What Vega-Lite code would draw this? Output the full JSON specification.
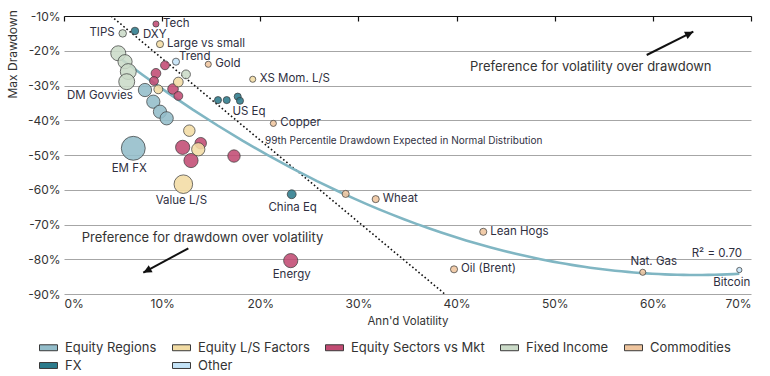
{
  "$schema": "https://vega.github.io/schema/vega-lite/v6.json",
  "width": 687,
  "height": 278,
  "autosize": {"type": "none"},
  "padding": {"left": 64, "top": 16, "right": 19, "bottom": 82},
  "background": "white",
  "config": {
    "view": {"stroke": null},
    "font": "Inter",
    "text": {"font": "Inter", "fill": "#2f2f3f", "fontSize": 11.5, "baseline": "middle"},
    "legend": {
      "orient": "none", "legendX": -25, "legendY": 322, "direction": "horizontal", "columns": 5,
      "symbolType": "M-1,-0.33H1V0.33H-1Z", "symbolSize": 324, "symbolStrokeColor": "#3a3a3a",
      "symbolStrokeWidth": 1, "symbolOpacity": 1, "labelFont": "Inter", "labelFontSize": 13,
      "labelColor": "#333333", "labelOffset": 7, "columnPadding": 13, "rowPadding": 1, "padding": 0
    }
  },
  "resolve": {"axis": {"x": "independent", "y": "independent"}},
  "datasets": {
    "pts": [
      {"name": "TIPS", "group": "Fixed Income", "vol": 5.98, "dd": -15.0, "weight": 18},
      {"name": "Fixed Income A", "group": "Fixed Income", "vol": 5.53, "dd": -20.73, "weight": 72},
      {"name": "Fixed Income B", "group": "Fixed Income", "vol": 6.22, "dd": -23.15, "weight": 64},
      {"name": "Fixed Income C", "group": "Fixed Income", "vol": 6.55, "dd": -26.0, "weight": 81},
      {"name": "DM Govvies", "group": "Fixed Income", "vol": 6.39, "dd": -28.9, "weight": 81},
      {"name": "Fixed Income D", "group": "Fixed Income", "vol": 12.43, "dd": -26.8, "weight": 25},
      {"name": "Tech", "group": "Equity Sectors vs Mkt", "vol": 9.37, "dd": -12.3, "weight": 12},
      {"name": "Sector A", "group": "Equity Sectors vs Mkt", "vol": 10.29, "dd": -24.19, "weight": 25},
      {"name": "Sector B", "group": "Equity Sectors vs Mkt", "vol": 9.37, "dd": -26.5, "weight": 30},
      {"name": "Sector C", "group": "Equity Sectors vs Mkt", "vol": 9.17, "dd": -28.7, "weight": 25},
      {"name": "Sector D", "group": "Equity Sectors vs Mkt", "vol": 11.11, "dd": -31.0, "weight": 36},
      {"name": "Sector E", "group": "Equity Sectors vs Mkt", "vol": 11.65, "dd": -33.0, "weight": 25},
      {"name": "Sector F", "group": "Equity Sectors vs Mkt", "vol": 12.09, "dd": -47.8, "weight": 64},
      {"name": "Sector G", "group": "Equity Sectors vs Mkt", "vol": 13.93, "dd": -46.6, "weight": 42},
      {"name": "Sector H", "group": "Equity Sectors vs Mkt", "vol": 12.94, "dd": -51.6, "weight": 64},
      {"name": "Sector I", "group": "Equity Sectors vs Mkt", "vol": 17.32, "dd": -50.3, "weight": 49},
      {"name": "Energy", "group": "Equity Sectors vs Mkt", "vol": 23.1, "dd": -80.4, "weight": 64},
      {"name": "Large vs small", "group": "Equity L/S Factors", "vol": 9.78, "dd": -18.1, "weight": 16},
      {"name": "XS Mom. L/S", "group": "Equity L/S Factors", "vol": 19.23, "dd": -28.2, "weight": 12},
      {"name": "Factor A", "group": "Equity L/S Factors", "vol": 9.61, "dd": -31.1, "weight": 25},
      {"name": "Factor B", "group": "Equity L/S Factors", "vol": 11.65, "dd": -29.0, "weight": 30},
      {"name": "Factor C", "group": "Equity L/S Factors", "vol": 12.77, "dd": -43.0, "weight": 42},
      {"name": "Factor D", "group": "Equity L/S Factors", "vol": 13.68, "dd": -48.36, "weight": 56},
      {"name": "Value L/S", "group": "Equity L/S Factors", "vol": 12.16, "dd": -58.4, "weight": 110},
      {"name": "Region A", "group": "Equity Regions", "vol": 8.25, "dd": -31.3, "weight": 56},
      {"name": "Region B", "group": "Equity Regions", "vol": 9.1, "dd": -34.66, "weight": 56},
      {"name": "Region C", "group": "Equity Regions", "vol": 9.78, "dd": -37.54, "weight": 56},
      {"name": "Region D", "group": "Equity Regions", "vol": 10.46, "dd": -39.44, "weight": 56},
      {"name": "EM FX", "group": "Equity Regions", "vol": 7.06, "dd": -48.07, "weight": 182},
      {"name": "Gold", "group": "Commodities", "vol": 14.7, "dd": -23.9, "weight": 12},
      {"name": "Copper", "group": "Commodities", "vol": 21.33, "dd": -40.9, "weight": 12},
      {"name": "Commodity A", "group": "Commodities", "vol": 28.7, "dd": -61.2, "weight": 16},
      {"name": "Wheat", "group": "Commodities", "vol": 31.76, "dd": -62.7, "weight": 16},
      {"name": "Lean Hogs", "group": "Commodities", "vol": 42.72, "dd": -72.1, "weight": 16},
      {"name": "Oil (Brent)", "group": "Commodities", "vol": 39.74, "dd": -82.9, "weight": 16},
      {"name": "Nat. Gas", "group": "Commodities", "vol": 58.97, "dd": -83.75, "weight": 12},
      {"name": "DXY", "group": "FX", "vol": 7.23, "dd": -14.3, "weight": 18},
      {"name": "US Eq A", "group": "FX", "vol": 15.69, "dd": -34.2, "weight": 16},
      {"name": "US Eq B", "group": "FX", "vol": 16.58, "dd": -34.2, "weight": 16},
      {"name": "US Eq C", "group": "FX", "vol": 17.7, "dd": -33.2, "weight": 16},
      {"name": "US Eq", "group": "FX", "vol": 17.93, "dd": -34.4, "weight": 16},
      {"name": "China Eq", "group": "FX", "vol": 23.2, "dd": -61.3, "weight": 25},
      {"name": "Trend", "group": "Other", "vol": 11.41, "dd": -23.15, "weight": 16},
      {"name": "Bitcoin", "group": "Other", "vol": 68.81, "dd": -83.1, "weight": 9}
    ],
    "ann": [
      {"kind": "p99", "vol": 4.8, "dd": -10},
      {"kind": "p99", "vol": 38.8, "dd": -90},
      {"kind": "note", "text": "99th Percentile Drawdown Expected in Normal Distribution", "vol": 20.48, "dd": -45.97},
      {"kind": "pref", "text": "Preference for volatility over drawdown", "vol": 41.37, "dd": -24.59},
      {"kind": "pref", "text": "Preference for drawdown over volatility", "vol": 1.8, "dd": -73.97},
      {"kind": "r2", "text": "R² = 0.70", "vol": 69.08, "dd": -78.5},
      {"kind": "arrow1", "vol": 59.37, "dd": -21.22, "vol2": 64.12, "dd2": -14.52},
      {"kind": "arrow2", "vol": 12.67, "dd": -76.85, "vol2": 8.08, "dd2": -83.87}
    ]
  },
  "layer": [
    {
      "data": {"name": "ann"},
      "transform": [{"filter": "datum.kind === 'p99'"}],
      "mark": {"type": "line", "color": "#111111", "strokeWidth": 1.6, "strokeDash": [1.6, 2.4], "clip": true},
      "encoding": {
        "x": {"field": "vol", "type": "quantitative", "scale": {"domain": [0, 70], "nice": false},
          "axis": {"orient": "bottom", "offset": -278, "labels": false, "grid": false, "domain": true,
            "domainColor": "#111111", "domainWidth": 1.2, "ticks": true, "tickColor": "#111111", "tickSize": 5,
            "tickWidth": 1.2, "values": [0, 10, 20, 30, 40, 50, 60, 70], "title": null}},
        "y": {"field": "dd", "type": "quantitative", "scale": {"domain": [-90, -10], "nice": false},
          "axis": {"values": [-10, -20, -30, -40, -50, -60, -70, -80, -90], "labelExpr": "datum.value + '%'",
            "grid": true, "gridColor": "#a6a6a6", "gridWidth": 1, "domain": false, "ticks": false, "labelPadding": 4,
            "labelFontSize": 12, "labelColor": "#333333", "labelFont": "Inter", "title": "Max Drawdown",
            "titleFont": "Inter", "titleFontSize": 12, "titleFontWeight": "normal", "titleColor": "#333333",
            "titleAngle": -90, "titleAlign": "left", "titleBaseline": "middle", "titleX": -52, "titleY": 82}}
      }
    },
    {
      "data": {"name": "pts"},
      "transform": [{"regression": "dd", "on": "vol", "method": "poly", "order": 2}],
      "mark": {"type": "line", "color": "#80b6c3", "strokeWidth": 2.6},
      "encoding": {
        "x": {"field": "vol", "type": "quantitative", "axis": null},
        "y": {"field": "dd", "type": "quantitative", "axis": null}
      }
    },
    {
      "data": {"name": "pts"},
      "mark": {"type": "point", "filled": true, "shape": "circle", "fillOpacity": 0.88, "stroke": "#3a3a3a", "strokeWidth": 0.8, "strokeOpacity": 0.9},
      "encoding": {
        "x": {"field": "vol", "type": "quantitative",
          "axis": {"orient": "bottom", "values": [0, 10, 20, 30, 40, 50, 60, 70], "labelExpr": "datum.value + '%'",
            "grid": false, "domain": false, "ticks": false, "labelPadding": 4, "labelFontSize": 12, "labelColor": "#333333",
            "labelFont": "Inter", "title": "Ann'd Volatility", "titleFont": "Inter", "titleFontSize": 11.5,
            "titleFontWeight": "normal", "titleColor": "#333333", "titlePadding": 6}},
        "y": {"field": "dd", "type": "quantitative", "axis": null},
        "color": {"field": "group", "type": "nominal", "title": null,
          "scale": {"domain": ["Equity Regions", "Equity L/S Factors", "Equity Sectors vs Mkt", "Fixed Income", "Commodities", "FX", "Other"],
            "range": ["#93bdca", "#f2dca4", "#c24b73", "#cbdbc8", "#efc59e", "#2c7b8c", "#c4e3f7"]}},
        "size": {"field": "weight", "type": "quantitative", "legend": null,
          "scale": {"type": "linear", "domain": [0, 182], "range": [0, 572], "zero": true}}
      }
    },
    {
      "data": {"name": "pts"},
      "transform": [{"filter": {"field": "name", "oneOf": ["Tech", "Large vs small", "Gold", "XS Mom. L/S", "Copper", "Wheat", "Lean Hogs", "Oil (Brent)"]}}],
      "mark": {"type": "text", "align": "left", "dx": 7, "dy": 0},
      "encoding": {"x": {"field": "vol", "type": "quantitative", "axis": null}, "y": {"field": "dd", "type": "quantitative", "axis": null}, "text": {"field": "name"}}
    },
    {
      "data": {"name": "pts"},
      "transform": [{"filter": "datum.name === 'DXY'"}],
      "mark": {"type": "text", "align": "left", "dx": 8, "dy": 4},
      "encoding": {"x": {"field": "vol", "type": "quantitative", "axis": null}, "y": {"field": "dd", "type": "quantitative", "axis": null}, "text": {"field": "name"}}
    },
    {
      "data": {"name": "pts"},
      "transform": [{"filter": "datum.name === 'Trend'"}],
      "mark": {"type": "text", "align": "left", "dx": 3, "dy": -5},
      "encoding": {"x": {"field": "vol", "type": "quantitative", "axis": null}, "y": {"field": "dd", "type": "quantitative", "axis": null}, "text": {"field": "name"}}
    },
    {
      "data": {"name": "pts"},
      "transform": [{"filter": "datum.name === 'TIPS'"}],
      "mark": {"type": "text", "align": "right", "dx": -8, "dy": 0},
      "encoding": {"x": {"field": "vol", "type": "quantitative", "axis": null}, "y": {"field": "dd", "type": "quantitative", "axis": null}, "text": {"field": "name"}}
    },
    {
      "data": {"name": "pts"},
      "transform": [{"filter": "datum.name === 'DM Govvies'"}],
      "mark": {"type": "text", "align": "right", "dx": 6, "dy": 14},
      "encoding": {"x": {"field": "vol", "type": "quantitative", "axis": null}, "y": {"field": "dd", "type": "quantitative", "axis": null}, "text": {"field": "name"}}
    },
    {
      "data": {"name": "pts"},
      "transform": [{"filter": "datum.name === 'US Eq'"}],
      "mark": {"type": "text", "align": "center", "dx": 9, "dy": 11},
      "encoding": {"x": {"field": "vol", "type": "quantitative", "axis": null}, "y": {"field": "dd", "type": "quantitative", "axis": null}, "text": {"field": "name"}}
    },
    {
      "data": {"name": "pts"},
      "transform": [{"filter": {"field": "name", "oneOf": ["China Eq", "Energy"]}}],
      "mark": {"type": "text", "align": "center", "dx": 1, "dy": 14},
      "encoding": {"x": {"field": "vol", "type": "quantitative", "axis": null}, "y": {"field": "dd", "type": "quantitative", "axis": null}, "text": {"field": "name"}}
    },
    {
      "data": {"name": "pts"},
      "transform": [{"filter": "datum.name === 'EM FX'"}],
      "mark": {"type": "text", "align": "center", "dx": -4, "dy": 21},
      "encoding": {"x": {"field": "vol", "type": "quantitative", "axis": null}, "y": {"field": "dd", "type": "quantitative", "axis": null}, "text": {"field": "name"}}
    },
    {
      "data": {"name": "pts"},
      "transform": [{"filter": "datum.name === 'Value L/S'"}],
      "mark": {"type": "text", "align": "center", "dx": -2, "dy": 17},
      "encoding": {"x": {"field": "vol", "type": "quantitative", "axis": null}, "y": {"field": "dd", "type": "quantitative", "axis": null}, "text": {"field": "name"}}
    },
    {
      "data": {"name": "pts"},
      "transform": [{"filter": "datum.name === 'Nat. Gas'"}],
      "mark": {"type": "text", "align": "center", "dx": 11, "dy": -10},
      "encoding": {"x": {"field": "vol", "type": "quantitative", "axis": null}, "y": {"field": "dd", "type": "quantitative", "axis": null}, "text": {"field": "name"}}
    },
    {
      "data": {"name": "pts"},
      "transform": [{"filter": "datum.name === 'Bitcoin'"}],
      "mark": {"type": "text", "align": "right", "dx": 11, "dy": 13},
      "encoding": {"x": {"field": "vol", "type": "quantitative", "axis": null}, "y": {"field": "dd", "type": "quantitative", "axis": null}, "text": {"field": "name"}}
    },
    {
      "data": {"name": "ann"},
      "transform": [{"filter": "datum.kind === 'note'"}],
      "mark": {"type": "text", "align": "left", "fontSize": 10},
      "encoding": {"x": {"field": "vol", "type": "quantitative", "axis": null}, "y": {"field": "dd", "type": "quantitative", "axis": null}, "text": {"field": "text"}}
    },
    {
      "data": {"name": "ann"},
      "transform": [{"filter": "datum.kind === 'pref'"}],
      "mark": {"type": "text", "align": "left", "fontSize": 13, "fill": "#333333"},
      "encoding": {"x": {"field": "vol", "type": "quantitative", "axis": null}, "y": {"field": "dd", "type": "quantitative", "axis": null}, "text": {"field": "text"}}
    },
    {
      "data": {"name": "ann"},
      "transform": [{"filter": "datum.kind === 'r2'"}],
      "mark": {"type": "text", "align": "right", "fontSize": 11.5},
      "encoding": {"x": {"field": "vol", "type": "quantitative", "axis": null}, "y": {"field": "dd", "type": "quantitative", "axis": null}, "text": {"field": "text"}}
    },
    {
      "data": {"name": "ann"},
      "transform": [{"filter": "datum.kind === 'arrow1' || datum.kind === 'arrow2'"}],
      "mark": {"type": "rule", "color": "#111111", "strokeWidth": 2},
      "encoding": {"x": {"field": "vol", "type": "quantitative", "axis": null}, "y": {"field": "dd", "type": "quantitative", "axis": null},
        "x2": {"field": "vol2"}, "y2": {"field": "dd2"}}
    },
    {
      "data": {"name": "ann"},
      "transform": [{"filter": "datum.kind === 'arrow1'"}],
      "mark": {"type": "point", "shape": "M0,0L-0.6,1.25L0.6,1.25Z", "filled": true, "color": "#111111", "opacity": 1, "size": 180, "angle": 63.4},
      "encoding": {"x": {"field": "vol2", "type": "quantitative", "axis": null}, "y": {"field": "dd2", "type": "quantitative", "axis": null}}
    },
    {
      "data": {"name": "ann"},
      "transform": [{"filter": "datum.kind === 'arrow2'"}],
      "mark": {"type": "point", "shape": "M0,0L-0.6,1.25L0.6,1.25Z", "filled": true, "color": "#111111", "opacity": 1, "size": 180, "angle": 241.5},
      "encoding": {"x": {"field": "vol2", "type": "quantitative", "axis": null}, "y": {"field": "dd2", "type": "quantitative", "axis": null}}
    }
  ]
}
